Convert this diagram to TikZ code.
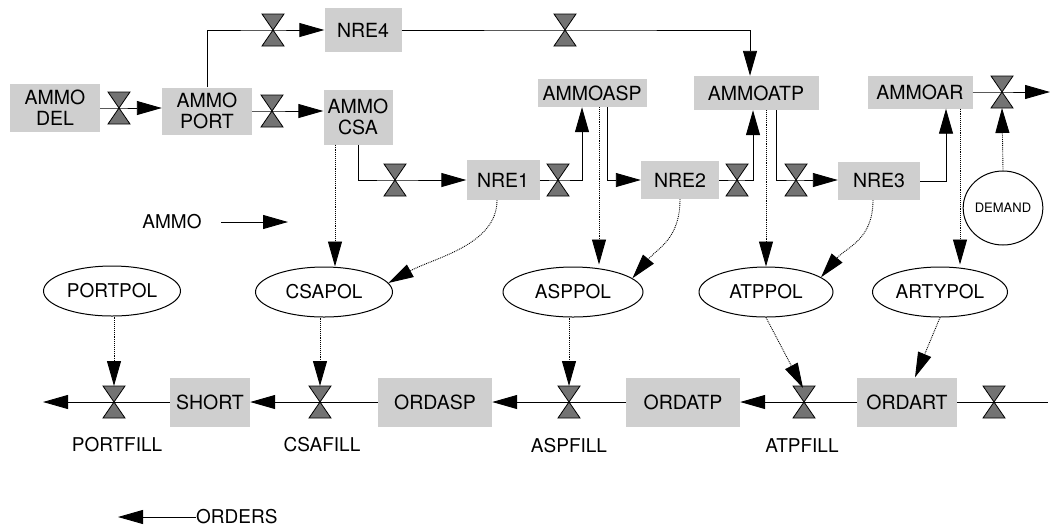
\documentclass[tikz,border=0pt]{standalone}
\usepackage{fontspec}
\setmainfont{TeX Gyre Heros}
\usetikzlibrary{shapes.geometric,arrows.meta}
\definecolor{boxgray}{gray}{0.81}
\definecolor{valvegray}{gray}{0.45}
\tikzset{
  every node/.style={font=\fontsize{19}{21}\selectfont},
  stock/.style={fill=boxgray, inner sep=0pt, align=center, font=\fontsize{19.5}{21}\selectfont},
  pol/.style={ellipse, draw, line width=1pt, minimum width=137pt, minimum height=50pt, inner sep=0pt},
  flow/.style={line width=0.9pt},
  arr/.style={line width=0.9pt, -{Triangle[length=25pt,width=14pt]}},
  dotarr/.style={line width=0.9pt, densely dotted, -{Triangle[length=25pt,width=14pt]}},
  valve/.pic={
    \coordinate (-c) at (0,0);
    \coordinate (-t) at (0,-16);
    \coordinate (-b) at (0,16);
    \filldraw[fill=valvegray, line width=0.8pt, line join=miter] (-11,-16) -- (11,-16) -- (0,0) -- cycle;
    \filldraw[fill=valvegray, line width=0.8pt, line join=miter] (-11,16) -- (11,16) -- (0,0) -- cycle;
  }
}
\begin{document}
\begin{tikzpicture}[x=1pt,y=-1pt]
\useasboundingbox (0,0) rectangle (1051,531);
% stocks
\node[stock, minimum width=90pt, minimum height=48pt] (ammodel) at (55,108) {AMMO\\DEL};
\node[stock, minimum width=90pt, minimum height=47pt] (ammoport) at (207,111) {AMMO\\PORT};
\node[stock, minimum width=77pt, minimum height=44pt] (nre4) at (363,30) {NRE4};
\node[stock, minimum width=69pt, minimum height=55pt] (ammocsa) at (358,117) {AMMO\\CSA};
\node[stock, minimum width=109pt, minimum height=28pt] (ammoasp) at (592,93) {AMMOASP};
\node[stock, minimum width=73pt, minimum height=40pt] (nre1) at (503,180) {NRE1};
\node[stock, minimum width=78pt, minimum height=38pt] (nre2) at (680,180) {NRE2};
\node[stock, minimum width=125pt, minimum height=34pt] (ammoatp) at (756,93) {AMMOATP};
\node[stock, minimum width=82pt, minimum height=38pt] (nre3) at (879,181) {NRE3};
\node[stock, minimum width=105pt, minimum height=33pt] (ammoar) at (920,92) {AMMOAR};
\node[stock, minimum width=80pt, minimum height=49pt] (short) at (210,402) {SHORT};
\node[stock, minimum width=114pt, minimum height=49pt] (ordasp) at (435,402) {ORDASP};
\node[stock, minimum width=114pt, minimum height=49pt] (ordatp) at (683,402) {ORDATP};
\node[stock, minimum width=100pt, minimum height=49pt] (ordart) at (907,402) {ORDART};
% policies
\node[pol] (portpol) at (112,291) {PORTPOL};
\node[pol] (csapol) at (324,292) {CSAPOL};
\node[pol, minimum width=140pt] (asppol) at (573,292) {ASPPOL};
\node[pol, minimum width=134pt] (atppol) at (766,292) {ATPPOL};
\node[pol, minimum width=135pt] (artypol) at (940,292) {ARTYPOL};
\node[ellipse, draw, line width=1pt, minimum width=70pt, minimum height=74pt, inner sep=0pt, font=\fontsize{13}{15}\selectfont] (demand) at (1003,208) {DEMAND};
% valves
\pic (va) at (119,108) {valve};
\pic (vb) at (272,111) {valve};
\pic (vc) at (273,30) {valve};
\pic (vd) at (565,30) {valve};
\pic (ve) at (395,180) {valve};
\pic (vf) at (558,180) {valve};
\pic (vg) at (737,180) {valve};
\pic (vh) at (796,180) {valve};
\pic (vi) at (1002,92) {valve};
\pic (portfill) at (114,402) {valve};
\pic (csafill) at (320,402) {valve};
\pic (aspfill) at (569,402) {valve};
\pic (atpfill) at (804,402) {valve};
\pic (vr) at (994,402) {valve};
% free ends
\coordinate (outR) at (1050,92);
\coordinate (endL) at (43,402);
\coordinate (endR) at (1048,402);
% top flows
\draw[arr] (ammodel.east) -- (va-c) -- (ammoport.west |- va-c);
\draw[arr] (ammoport.east |- vb-c) -- (vb-c) -- (ammocsa.west |- vb-c);
\draw[arr] (ammoport.north) |- (vc-c) -- (nre4.west);
\draw[arr] (nre4.east) -- (vd-c) -| ([xshift=-6pt]ammoatp.north);
\draw[arr] (ammocsa.south) |- (ve-c) -- (nre1.west);
\draw[arr] (nre1.east) -- (vf-c) -| ([xshift=-10pt]ammoasp.south);
\draw[arr] ([xshift=15pt]ammoasp.south) |- (nre2.west);
\draw[arr] (nre2.east) -- (vg-c) -| ([xshift=-3pt]ammoatp.south);
\draw[arr] ([xshift=20pt]ammoatp.south) |- (vh-c) -- (nre3.west |- vh-c);
\draw[arr] (nre3.east) -| ([xshift=26pt]ammoar.south);
\draw[arr] (ammoar.east) -- (vi-c) -- (outR);
\draw[dotarr] (demand.north) -- (vi-b);
% information links
\draw[dotarr] ([xshift=-23pt]ammocsa.south) -- ([xshift=-23pt]ammocsa.south |- csapol.north);
\draw[dotarr] ([xshift=7pt]ammoasp.south) -- ([xshift=7pt,yshift=2pt]ammoasp.south |- asppol.north);
\draw[dotarr] ([xshift=10pt]ammoatp.south) -- ([xshift=10pt]ammoatp.south |- atppol.north);
\draw[dotarr] ([xshift=40pt]ammoar.south) -- ([xshift=40pt,yshift=2pt]ammoar.south |- artypol.north);
\draw[dotarr] ([xshift=-6pt]nre1.south) .. controls +(0,45) and +(45,-25) .. (csapol.8);
\draw[dotarr] (nre2.south) .. controls +(0,40) and +(25,-30) .. (asppol.13);
\draw[dotarr] ([xshift=-6pt]nre3.south) .. controls +(0,40) and +(25,-30) .. (atppol.15);
\draw[dotarr] (portpol.south -| portfill-c) -- (portfill-t);
\draw[dotarr] (csapol.south -| csafill-c) -- (csafill-t);
\draw[dotarr] (asppol.south -| aspfill-c) -- (aspfill-t);
\draw[dotarr] (atppol.south) -- ([xshift=-1pt,yshift=-2pt]atpfill-t);
\draw[dotarr] (artypol.south) -- ([xshift=8pt]ordart.north);
% order flows
\draw[flow] (ordart.east) -- (vr-c) -- (endR);
\draw[arr] (ordart.west) -- (atpfill-c) -- (ordatp.east);
\draw[arr] (ordatp.west) -- (aspfill-c) -- (ordasp.east);
\draw[arr] (ordasp.west) -- (csafill-c) -- (short.east);
\draw[arr] (short.west) -- (portfill-c) -- (endL);
% labels
\node (lportfill) at (117,445) {PORTFILL};
\node (lcsafill) at (322,445) {CSAFILL};
\node (laspfill) at (569,446) {ASPFILL};
\node (latpfill) at (802,446) {ATPFILL};
% legends
\node (ammolbl) at (172,222) {AMMO};
\coordinate (ammoE) at (288,222);
\draw[arr] ([xshift=16pt]ammolbl.east) -- (ammoE);
\node[anchor=west, inner sep=0pt] (orders) at (196,517) {ORDERS};
\coordinate (ordersE) at (118,517);
\draw[arr] (orders.west) -- (ordersE);
\end{tikzpicture}
\end{document}
